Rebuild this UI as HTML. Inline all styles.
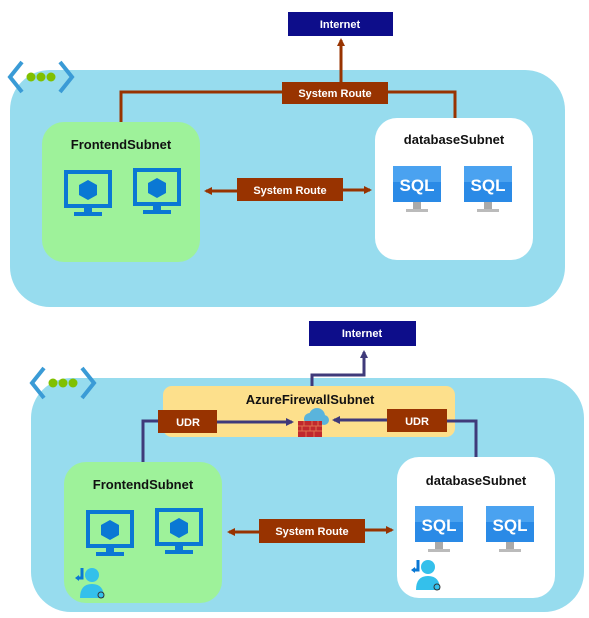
<!DOCTYPE html><html><head><style>body{margin:0;background:#fff}svg{display:block}text{font-family:"Liberation Sans",sans-serif;font-weight:bold}</style></head><body>
<svg width="589" height="618" viewBox="0 0 589 618">
<defs>
<marker id="ab" markerWidth="8" markerHeight="8" refX="6" refY="4" orient="auto" markerUnits="userSpaceOnUse"><path d="M0,0L8,4L0,8z" fill="#983300"/></marker>
<marker id="ap" markerWidth="8" markerHeight="8" refX="6" refY="4" orient="auto" markerUnits="userSpaceOnUse"><path d="M0,0L8,4L0,8z" fill="#3f3a7a"/></marker>
<g id="mon"><rect x="2" y="2" width="44" height="34" fill="none" stroke="#0a78d4" stroke-width="4"/><path d="M24,10l9,5v10l-9,5l-9-5v-10z" fill="#0a78d4"/><rect x="20" y="37" width="8" height="6" fill="#0a78d4"/><rect x="10" y="42" width="28" height="4" fill="#0a78d4"/></g>
<g id="sql"><rect x="20" y="36" width="8" height="8" fill="#aaa"/><rect x="13" y="43" width="22" height="3" fill="#bbb"/><rect x="0" y="0" width="48" height="36" fill="#2a8ae6"/><rect x="0" y="0" width="48" height="16" fill="#4aa2f0"/><text x="24" y="25" font-size="17" fill="#fff" text-anchor="middle">SQL</text></g>
<g id="vn"><path d="M14,4L2,19L14,34M52,4L64,19L52,34" fill="none" stroke="#3a9bd6" stroke-width="4"/><circle cx="23" cy="19" r="4.5" fill="#80c000"/><circle cx="33" cy="19" r="4.5" fill="#80c000"/><circle cx="43" cy="19" r="4.5" fill="#80c000"/></g>
<g id="usr"><path d="M8,2v10h-5" fill="none" stroke="#0a78d4" stroke-width="3"/><path d="M1,12l4-3v6z" fill="#0a78d4"/><circle cx="18" cy="9" r="7" fill="#34c0eb"/><path d="M6,32q0-14 12-14q12,0 12,14z" fill="#34c0eb"/><circle cx="27" cy="29" r="3" fill="none" stroke="#333" stroke-width="1"/></g>
</defs>
<!-- top -->
<rect x="10" y="70" width="555" height="237" rx="40" fill="#97dcee"/>
<use href="#vn" x="8" y="58"/>
<rect x="288" y="12" width="105" height="24" fill="#0d0d8a"/><text x="340" y="28" font-size="11" fill="#fff" text-anchor="middle">Internet</text>
<line x1="341" y1="90" x2="341" y2="40" stroke="#983300" stroke-width="3" marker-end="url(#ab)"/>
<path d="M121,122V92H455V118" fill="none" stroke="#983300" stroke-width="3"/>
<rect x="282" y="82" width="106" height="22" fill="#983300"/><text x="335" y="97" font-size="11" fill="#fff" text-anchor="middle">System Route</text>
<rect x="42" y="122" width="158" height="140" rx="22" fill="#9ef29a"/><text x="121" y="149" font-size="13" fill="#111" text-anchor="middle">FrontendSubnet</text>
<use href="#mon" x="64" y="170"/><use href="#mon" x="133" y="168"/>
<rect x="375" y="118" width="158" height="142" rx="22" fill="#fff"/><text x="454" y="144" font-size="13" fill="#111" text-anchor="middle">databaseSubnet</text>
<use href="#sql" x="393" y="166"/><use href="#sql" x="464" y="166"/>
<line x1="238" y1="191" x2="206" y2="191" stroke="#983300" stroke-width="3" marker-end="url(#ab)"/>
<line x1="340" y1="190" x2="370" y2="190" stroke="#983300" stroke-width="3" marker-end="url(#ab)"/>
<rect x="237" y="178" width="106" height="23" fill="#983300"/><text x="290" y="194" font-size="11" fill="#fff" text-anchor="middle">System Route</text>
<!-- bottom -->
<rect x="31" y="378" width="553" height="234" rx="40" fill="#97dcee"/>
<use href="#vn" x="30" y="364"/>
<rect x="309" y="321" width="107" height="25" fill="#0d0d8a"/><text x="362" y="337" font-size="11" fill="#fff" text-anchor="middle">Internet</text>
<path d="M312,386V375H364V352" fill="none" stroke="#3f3a7a" stroke-width="3" marker-end="url(#ap)"/>
<rect x="163" y="386" width="292" height="51" rx="9" fill="#fde08c"/><text x="310" y="404" font-size="13" fill="#111" text-anchor="middle">AzureFirewallSubnet</text>
<path d="M143,462V421H160" fill="none" stroke="#3f3a7a" stroke-width="3"/>
<path d="M476,458V421H445" fill="none" stroke="#3f3a7a" stroke-width="3"/>
<line x1="216" y1="422" x2="292" y2="422" stroke="#3f3a7a" stroke-width="3" marker-end="url(#ap)"/>
<line x1="388" y1="420" x2="334" y2="420" stroke="#3f3a7a" stroke-width="3" marker-end="url(#ap)"/>
<rect x="158" y="410" width="59" height="23" fill="#983300"/><text x="188" y="426" font-size="11" fill="#fff" text-anchor="middle">UDR</text>
<rect x="387" y="409" width="60" height="23" fill="#983300"/><text x="417" y="425" font-size="11" fill="#fff" text-anchor="middle">UDR</text>
<circle cx="317" cy="416" r="8" fill="#5ab4dc"/><circle cx="310" cy="419" r="6" fill="#5ab4dc"/><circle cx="324" cy="420" r="5" fill="#5ab4dc"/>
<rect x="298" y="421" width="24" height="16" fill="#c0282d"/><path d="M298,426H322M298,431H322M304,421V426M312,421V426M318,421V426M302,426V431M310,426V431M316,426V431M306,431V437M314,431V437" stroke="#e07050" stroke-width="1"/>
<rect x="64" y="462" width="158" height="141" rx="22" fill="#9ef29a"/><text x="143" y="489" font-size="13" fill="#111" text-anchor="middle">FrontendSubnet</text>
<use href="#mon" x="86" y="510"/><use href="#mon" x="155" y="508"/>
<use href="#usr" x="74" y="566"/>
<rect x="397" y="457" width="158" height="141" rx="22" fill="#fff"/><text x="476" y="485" font-size="13" fill="#111" text-anchor="middle">databaseSubnet</text>
<use href="#sql" x="415" y="506"/><use href="#sql" x="486" y="506"/>
<use href="#usr" x="410" y="558"/>
<line x1="260" y1="532" x2="229" y2="532" stroke="#983300" stroke-width="3" marker-end="url(#ab)"/>
<line x1="363" y1="530" x2="392" y2="530" stroke="#983300" stroke-width="3" marker-end="url(#ab)"/>
<rect x="259" y="519" width="106" height="24" fill="#983300"/><text x="312" y="535" font-size="11" fill="#fff" text-anchor="middle">System Route</text>
</svg></body></html>
